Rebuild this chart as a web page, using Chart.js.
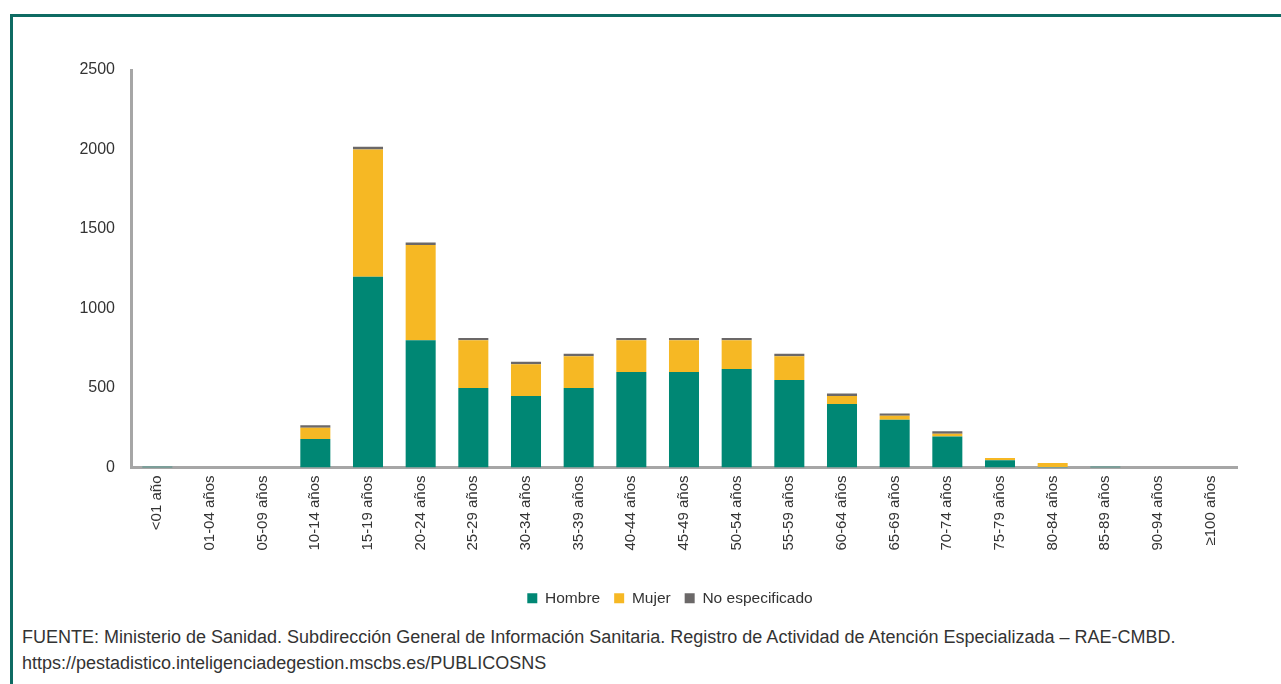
<!DOCTYPE html>
<html>
<head>
<meta charset="utf-8">
<script src="https://cdn.jsdelivr.net/npm/chart.js"></script>
<style>
  body { margin: 0; background: #fff; width: 1281px; height: 684px; overflow: hidden; position: relative; font-family: "Liberation Sans", Arial, sans-serif; }
  .marco { position: absolute; left: 10px; top: 14px; width: 1300px; height: 700px; border-left: 3px solid #0e6b63; border-top: 3px solid #0e6b63; }
  .grafico { position: absolute; left: 14px; top: 18px; width: 1267px; height: 598px; }
  .fuente { position: absolute; left: 22px; top: 624px; font-size: 18px; line-height: 26px; color: #333; white-space: nowrap; }
</style>
</head>
<body>
<div class="marco"></div>
<div class="grafico"><canvas id="edadChart"></canvas></div>
<div class="fuente">FUENTE: Ministerio de Sanidad. Subdirección General de Información Sanitaria. Registro de Actividad de Atención Especializada – RAE-CMBD.<br>https://pestadistico.inteligenciadegestion.mscbs.es/PUBLICOSNS</div>

<script>
// grupos de edad
const grupos = ['<01 año', '01-04 años', '05-09 años', '10-14 años', '15-19 años', '20-24 años', '25-29 años',
  '30-34 años', '35-39 años', '40-44 años', '45-49 años', '50-54 años', '55-59 años', '60-64 años',
  '65-69 años', '70-74 años', '75-79 años', '80-84 años', '85-89 años', '90-94 años', '≥100 años'];

const hombre = [5, 0, 0, 180, 1200, 800, 500, 450, 500, 600, 600, 620, 550, 400, 300, 195, 45, 3, 5, 0, 0];
const mujer = [0, 0, 0, 70, 800, 600, 300, 200, 200, 200, 200, 180, 150, 50, 25, 18, 15, 25, 0, 0, 0];
const noEspecificado = [0, 0, 0, 15, 18, 15, 15, 15, 15, 15, 15, 15, 15, 15, 15, 15, 0, 0, 0, 0, 0];

const yTicks = [0, 500, 1000, 1500, 2000, 2500];

const fuente = '"Liberation Sans", Arial, sans-serif';

// desplaza la leyenda a la derecha como en el original
const moverLeyenda = {
    id: 'moverLeyenda',
    afterLayout(chart) {
        chart.legend.left += 36;
        chart.legend.right += 36;
    }
};

const ctx = document.getElementById('edadChart').getContext('2d');
new Chart(ctx, {
    type: 'bar',
    data: {
        labels: grupos,
        datasets: [{
            label: 'Hombre',
            data: hombre,
            backgroundColor: '#008774'
        }, {
            label: 'Mujer',
            data: mujer,
            backgroundColor: '#f6b824'
        }, {
            label: 'No especificado',
            data: noEspecificado,
            backgroundColor: '#6b6868'
        }]
    },
    options: {
        responsive: true,
        maintainAspectRatio: false,
        animation: false,
        datasets: {
            bar: { categoryPercentage: 1, barPercentage: 0.57 }
        },
        layout: {
            padding: { left: 17, top: 52, right: 44, bottom: 0 }
        },
        scales: {
            x: {
                stacked: true,
                grid: { display: false, drawTicks: false },
                border: { color: '#a6a6a6', width: 3 },
                ticks: {
                    color: '#333',
                    font: { size: 15, family: fuente },
                    minRotation: 90,
                    maxRotation: 90,
                    padding: 8,
                    autoSkip: false
                },
                afterFit: function (s) { s.height = 109; }
            },
            y: {
                stacked: true,
                min: 0,
                max: 2500,
                grid: { display: false, drawTicks: false },
                border: { color: '#a6a6a6', width: 3 },
                afterBuildTicks: function (s) { s.ticks = yTicks.map(v => ({ value: v })); },
                ticks: {
                    color: '#333',
                    font: { size: 16, family: fuente },
                    padding: 16,
                    callback: v => String(v)
                },
                afterFit: function (s) { s.width = 100; }
            }
        },
        plugins: {
            legend: {
                position: 'bottom',
                labels: {
                    boxWidth: 10,
                    boxHeight: 10,
                    padding: 14,
                    color: '#333',
                    font: { size: 15.5, family: fuente }
                }
            },
            tooltip: { enabled: false }
        }
    },
    plugins: [moverLeyenda]
});
</script>
</body>
</html>
